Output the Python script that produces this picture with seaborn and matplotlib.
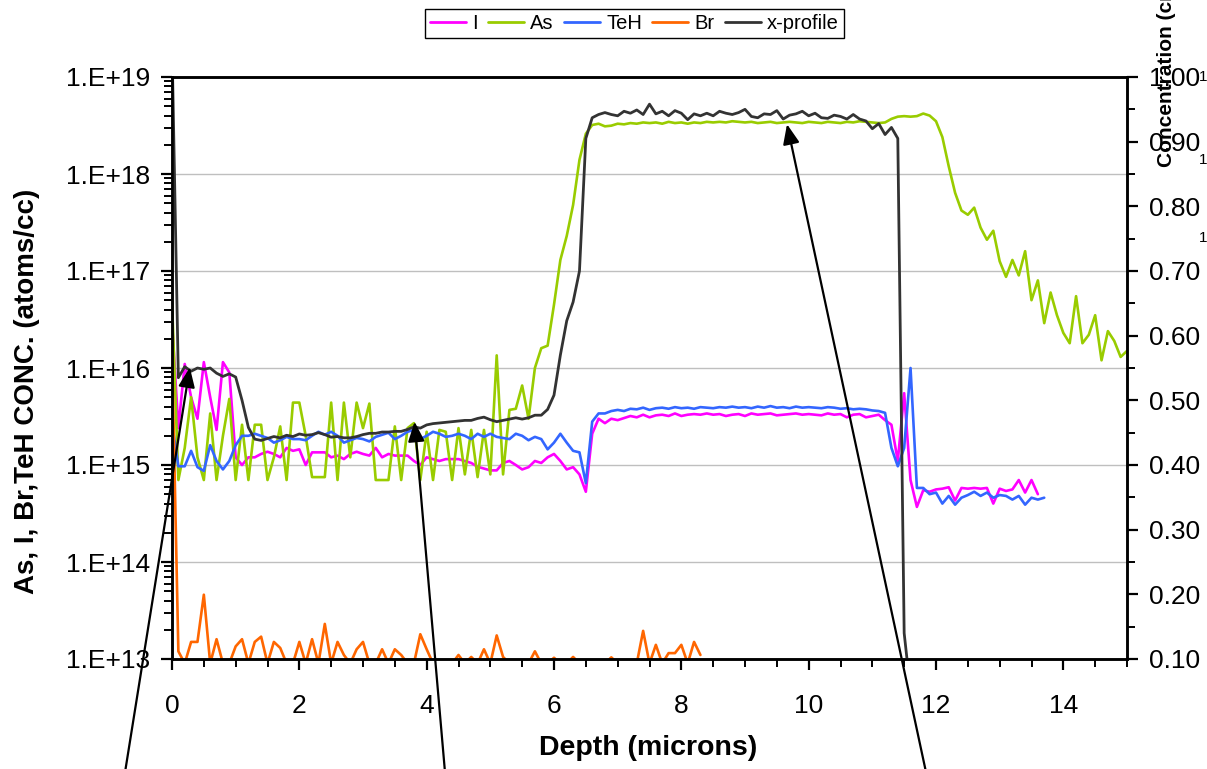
import numpy as np
import matplotlib
matplotlib.use("Agg")
import matplotlib.pyplot as plt
import matplotlib.ticker as mticker
from matplotlib.lines import Line2D
from matplotlib.patches import ConnectionPatch
import seaborn as sns

# ---------------- data (sampled every 0.1 micron from depth 0) ----------------
DEPTH_STEP = 0.1
F = 9e12  # below detection floor (off-axis)

I_conc = [
    3e16, 2.4e15, 1.1e16, 5e15, 3e15, 1.15e16, 5e15, 2.3e15, 1.15e16, 9e15,
    1.2e15, 1e15, 1.2e15, 1.2e15, 1.3e15, 1.37e15, 1.3e15, 1.2e15, 1.5e15, 1.4e15,
    1.45e15, 1e15, 1.35e15, 1.35e15, 1.35e15, 1.2e15, 1.25e15, 1.15e15, 1.3e15, 1.37e15,
    1.3e15, 1.25e15, 1.5e15, 1.2e15, 1.3e15, 1.25e15, 1.25e15, 1.25e15, 1.1e15, 1e15,
    1.2e15, 1.15e15, 1.1e15, 1.15e15, 1.15e15, 1.15e15, 1.1e15, 1.05e15, 9.6e14, 9.2e14,
    8.8e14, 8.8e14, 1.05e15, 1.1e15, 1e15, 9e14, 9.5e14, 1.1e15, 1.05e15, 1.2e15,
    1.3e15, 1.1e15, 9e14, 9.5e14, 8e14, 5.3e14, 2.1e15, 3e15, 2.7e15, 3e15,
    2.9e15, 3.05e15, 3.2e15, 3.1e15, 3.3e15, 3.1e15, 3.25e15, 3.3e15, 3.2e15, 3.4e15,
    3.2e15, 3.3e15, 3.35e15, 3.3e15, 3.4e15, 3.3e15, 3.35e15, 3.2e15, 3.3e15, 3.35e15,
    3.2e15, 3.4e15, 3.3e15, 3.35e15, 3.4e15, 3.25e15, 3.3e15, 3.35e15, 3.4e15, 3.3e15,
    3.35e15, 3.3e15, 3.25e15, 3.4e15, 3.3e15, 3.35e15, 3.1e15, 3.3e15, 3.35e15, 3.1e15,
    3.2e15, 3.3e15, 2.9e15, 2.6e15, 1.1e15, 5.5e15, 7e14, 3.7e14, 5.5e14, 5.3e14,
    5.6e14, 5.7e14, 5.9e14, 4.3e14, 5.8e14, 5.7e14, 5.8e14, 5.7e14, 5.8e14, 4.0e14,
    5.7e14, 5.4e14, 5.6e14, 7e14, 5.2e14, 7e14, 5e14,
]

As_conc = [
    5e16, 7e14, 1.5e15, 5e15, 1.2e15, 7e14, 3.4e15, 7e14, 2e15, 4.8e15,
    7e14, 2.6e15, 7e14, 2.6e15, 2.6e15, 7e14, 1.2e15, 2.5e15, 7e14, 4.4e15,
    4.4e15, 2e15, 7.5e14, 7.5e14, 7.5e14, 4.4e15, 7e14, 4.4e15, 1.2e15, 4.4e15,
    2.4e15, 4.3e15, 7e14, 7e14, 7e14, 2.5e15, 7e14, 2.4e15, 2.7e15, 7e14,
    2.2e15, 7e14, 2.3e15, 2.2e15, 7e14, 2.4e15, 8e14, 2.3e15, 7.5e14, 2.3e15,
    8e14, 1.35e16, 8e14, 3.7e15, 3.8e15, 6.6e15, 3e15, 1e16, 1.6e16, 1.7e16,
    4.5e16, 1.3e17, 2.3e17, 4.8e17, 1.4e18, 2.6e18, 3.2e18, 3.3e18, 3.1e18, 3.15e18,
    3.3e18, 3.25e18, 3.35e18, 3.3e18, 3.4e18, 3.35e18, 3.4e18, 3.3e18, 3.45e18, 3.35e18,
    3.4e18, 3.3e18, 3.4e18, 3.35e18, 3.45e18, 3.4e18, 3.45e18, 3.4e18, 3.5e18, 3.45e18,
    3.4e18, 3.45e18, 3.35e18, 3.4e18, 3.45e18, 3.35e18, 3.4e18, 3.45e18, 3.4e18, 3.35e18,
    3.45e18, 3.4e18, 3.35e18, 3.45e18, 3.4e18, 3.35e18, 3.45e18, 3.4e18, 3.5e18, 3.45e18,
    3.4e18, 3.35e18, 3.4e18, 3.7e18, 3.9e18, 3.95e18, 3.9e18, 3.95e18, 4.2e18, 4.0e18,
    3.5e18, 2.4e18, 1.2e18, 6.4e17, 4.2e17, 3.8e17, 4.5e17, 2.8e17, 2.1e17, 2.6e17,
    1.26e17, 8.7e16, 1.3e17, 9e16, 1.6e17, 5e16, 8e16, 2.9e16, 6e16, 3.5e16,
    2.3e16, 1.8e16, 5.5e16, 1.8e16, 2.2e16, 3.5e16, 1.2e16, 2.4e16, 1.9e16, 1.3e16,
    1.5e16,
]

TeH_conc = [
    2.7e15, 9.7e14, 9.7e14, 1.4e15, 9.5e14, 8.7e14, 1.6e15, 1.1e15, 9e14, 1.1e15,
    1.6e15, 2e15, 2e15, 2.1e15, 2e15, 1.9e15, 1.7e15, 1.8e15, 1.95e15, 1.85e15,
    1.85e15, 1.8e15, 2e15, 2.2e15, 2.05e15, 2.2e15, 2e15, 1.7e15, 1.8e15, 1.9e15,
    1.85e15, 1.75e15, 1.95e15, 2.05e15, 2.15e15, 1.85e15, 2e15, 2.2e15, 2.3e15, 1.85e15,
    2e15, 2.2e15, 2.1e15, 1.95e15, 2e15, 2.1e15, 2e15, 1.85e15, 2.1e15, 1.95e15,
    2.1e15, 1.95e15, 1.9e15, 1.85e15, 2.1e15, 2e15, 1.8e15, 1.95e15, 1.85e15, 1.45e15,
    1.7e15, 2.1e15, 1.7e15, 1.4e15, 1.35e15, 6.5e14, 2.8e15, 3.4e15, 3.4e15, 3.6e15,
    3.7e15, 3.6e15, 3.8e15, 3.75e15, 3.9e15, 3.7e15, 3.85e15, 3.9e15, 3.8e15, 3.95e15,
    3.85e15, 3.9e15, 3.8e15, 3.95e15, 3.9e15, 3.85e15, 3.95e15, 3.9e15, 4e15, 3.9e15,
    3.95e15, 3.85e15, 4e15, 3.9e15, 4.05e15, 3.9e15, 3.95e15, 3.85e15, 4e15, 3.9e15,
    3.95e15, 3.9e15, 3.85e15, 3.95e15, 3.9e15, 3.8e15, 3.85e15, 3.75e15, 3.8e15, 3.75e15,
    3.65e15, 3.6e15, 3.45e15, 1.5e15, 9.7e14, 1.5e15, 1e16, 5.8e14, 5.8e14, 5e14,
    5.2e14, 4e14, 4.8e14, 3.9e14, 4.6e14, 4.9e14, 5.3e14, 4.8e14, 5.2e14, 4.6e14,
    4.9e14, 4.8e14, 4.4e14, 4.8e14, 3.9e14, 4.6e14, 4.4e14, 4.6e14,
]

Br_conc = [
    1.6e16, 1.2e13, F, 1.5e13, 1.5e13, 4.6e13, F, 1.6e13, F, F,
    1.35e13, 1.6e13, F, 1.5e13, 1.7e13, F, 1.5e13, 1.3e13, F, F,
    1.5e13, F, 1.6e13, F, 2.3e13, F, 1.5e13, 1.1e13, F, 1.26e13,
    1.5e13, F, F, 1.26e13, F, 1.26e13, 1.1e13, F, F, 1.8e13,
    1.26e13, F, F, F, F, 1.1e13, F, 1.05e13, F, 1.26e13,
    F, 1.75e13, 1.05e13, F, F, F, F, 1.2e13, F, F,
    1.03e13, F, F, 1.05e13, F, F, F, F, F, 1.04e13,
    F, F, F, F, 1.95e13, F, 1.4e13, F, 1.15e13, 1.15e13,
    1.4e13, F, 1.5e13, 1.1e13,
]

x_profile = [
    1.05, 0.535, 0.552, 0.545, 0.550, 0.548, 0.550, 0.542, 0.537, 0.541,
    0.536, 0.500, 0.458, 0.440, 0.438, 0.441, 0.444, 0.442, 0.446, 0.444,
    0.448, 0.446, 0.447, 0.450, 0.447, 0.443, 0.444, 0.442, 0.442, 0.444,
    0.447, 0.449, 0.449, 0.451, 0.451, 0.452, 0.452, 0.455, 0.459, 0.457,
    0.462, 0.464, 0.465, 0.466, 0.467, 0.468, 0.469, 0.469, 0.472, 0.474,
    0.470, 0.467, 0.469, 0.471, 0.473, 0.471, 0.473, 0.477, 0.477, 0.486,
    0.508, 0.570, 0.623, 0.652, 0.700, 0.905, 0.937, 0.942, 0.945, 0.942,
    0.940, 0.947, 0.944, 0.949, 0.942, 0.958, 0.943, 0.947, 0.940, 0.948,
    0.944, 0.934, 0.943, 0.940, 0.944, 0.940, 0.947, 0.944, 0.942, 0.945,
    0.950, 0.939, 0.937, 0.943, 0.942, 0.948, 0.935, 0.941, 0.943, 0.947,
    0.940, 0.944, 0.937, 0.936, 0.941, 0.939, 0.935, 0.942, 0.935, 0.932,
    0.920, 0.928, 0.911, 0.922, 0.905, 0.140, 0.050,
]

series_names = ["I", "As", "TeH", "Br"]
series_colors = ["#FF00FF", "#99CC00", "#3366FF", "#FF6600"]
profile_name = "x-profile"
profile_color = "#333333"

# annotation arrows: tip in (depth, x-fraction), tail in figure fraction
arrow_tip_depth = [0.28, 3.81, 9.66]
arrow_tip_frac = [0.551, 0.467, 0.927]
arrow_tail_fig = [(0.103, -0.01), (0.369, -0.01), (0.768, -0.01)]


def depth_for(vals):
    return np.round(np.arange(len(vals)) * DEPTH_STEP, 2)


# ---------------- styling ----------------
sns.set_theme(style="white")
plt.rcParams["font.family"] = ["Liberation Sans", "DejaVu Sans"]
plt.rcParams["axes.linewidth"] = 1.8
plt.rcParams["text.color"] = "black"
plt.rcParams["axes.labelcolor"] = "black"
plt.rcParams["xtick.color"] = "black"
plt.rcParams["ytick.color"] = "black"
plt.rcParams["xtick.labelcolor"] = "black"
plt.rcParams["ytick.labelcolor"] = "black"

W, H = 1207, 769
fig = plt.figure(figsize=(W / 100, H / 100), dpi=100)
L, R, T, B = 172, 1127, 77, 659
ax = fig.add_axes([L / W, 1 - B / H, (R - L) / W, (B - T) / H])
ax.set_yscale("log")
ax.set_ylim(1e13, 1e19)
ax.set_xlim(0, 15)

for name, col, vals in zip(series_names, series_colors, [I_conc, As_conc, TeH_conc, Br_conc]):
    sns.lineplot(x=depth_for(vals), y=vals, ax=ax, color=col, linewidth=1.9,
                 legend=False, sort=False, estimator=None)

ax.set_yscale("log")
ax.set_ylim(1e13, 1e19)
ax.set_xlim(0, 15)

ax2 = ax.twinx()
sns.lineplot(x=depth_for(x_profile), y=x_profile, ax=ax2, color=profile_color,
             linewidth=2.0, legend=False, sort=False, estimator=None)
ax2.set_ylim(0.10, 1.00)
ax2.set_xlim(0, 15)

# grid
ax.yaxis.grid(True, which="major", color="#BFBFBF", linewidth=1.0)
ax.xaxis.grid(False)
ax.set_axisbelow(True)

# ticks & formatters
ax.yaxis.set_major_locator(mticker.LogLocator(base=10, numticks=20))
ax.yaxis.set_minor_locator(mticker.LogLocator(base=10, subs=np.arange(2, 10), numticks=100))
ax.yaxis.set_major_formatter(mticker.FuncFormatter(lambda v, _: "1.E+%d" % int(round(np.log10(v)))))
ax.yaxis.set_minor_formatter(mticker.NullFormatter())
ax.xaxis.set_major_locator(mticker.MultipleLocator(2))
ax.xaxis.set_minor_locator(mticker.MultipleLocator(0.5))
ax.xaxis.set_major_formatter(mticker.FormatStrFormatter("%d"))

ax.tick_params(axis="y", which="major", direction="out", length=8, width=1.6,
               labelsize=19, pad=8, color="black", labelcolor="black", left=True)
ax.tick_params(axis="y", which="minor", direction="out", length=6, width=1.4, color="black", left=True)
ax.tick_params(axis="x", which="major", direction="out", length=8, width=1.6,
               labelsize=19, pad=17, color="black", labelcolor="black", bottom=True)
ax.tick_params(axis="x", which="minor", direction="out", length=6, width=1.4, color="black", bottom=True)

ax2.yaxis.set_major_locator(mticker.MultipleLocator(0.1))
ax2.yaxis.set_minor_locator(mticker.MultipleLocator(0.05))
ax2.yaxis.set_major_formatter(mticker.FormatStrFormatter("%.2f"))
ax2.tick_params(axis="y", which="major", direction="out", length=8, width=1.6,
                labelsize=19, pad=8, color="black", labelcolor="black", right=True)
ax2.tick_params(axis="y", which="minor", direction="out", length=6, width=1.4, color="black", right=True)

for a in (ax, ax2):
    a.set_xlabel("")
    a.set_ylabel("")
    for sp in a.spines.values():
        sp.set_color("black")
        sp.set_linewidth(1.8)
ax2.patch.set_visible(False)

# axis titles
fig.text(648 / W, 1 - 748 / H, "Depth (microns)", ha="center", va="center",
         fontsize=20.5, fontweight="bold", color="black")
fig.text(27 / W, 1 - 391 / H, "As, I, Br,TeH CONC. (atoms/cc)", ha="center", va="center",
         rotation=90, fontsize=20, fontweight="bold", color="black")
fig.text(1166 / W, 1 - 167 / H, "Concentration (cm-3)", ha="center", va="bottom",
         rotation=90, fontsize=15, fontweight="bold", color="black")
for yy in (77, 160, 238):
    fig.text(1199 / W, 1 - yy / H, "1", ha="left", va="center", fontsize=11, color="black")

# legend
handles = [Line2D([], [], color=c, linewidth=2) for c in series_colors] + \
          [Line2D([], [], color=profile_color, linewidth=2)]
labels = series_names + [profile_name]
leg = fig.legend(handles, labels, loc="center", bbox_to_anchor=(634.5 / W, 1 - 23.5 / H),
                 ncol=5, frameon=True, fancybox=False, edgecolor="black", framealpha=1,
                 fontsize=14.5, handlelength=1.8, handletextpad=0.3, columnspacing=0.5,
                 borderpad=0.25, borderaxespad=0)
leg.get_frame().set_linewidth(1.0)
for t in leg.get_texts():
    t.set_color("black")

# arrows (no text objects)
for d, f, tail in zip(arrow_tip_depth, arrow_tip_frac, arrow_tail_fig):
    con = ConnectionPatch(xyA=tail, coordsA="figure fraction",
                          xyB=(d, f), coordsB=ax2.transData,
                          arrowstyle="-|>,head_length=0.6,head_width=0.25",
                          color="black", lw=1.6, shrinkA=0, shrinkB=0,
                          mutation_scale=20)
    con.set_clip_on(False)
    fig.add_artist(con)

fig.savefig("out.png", dpi=100)
